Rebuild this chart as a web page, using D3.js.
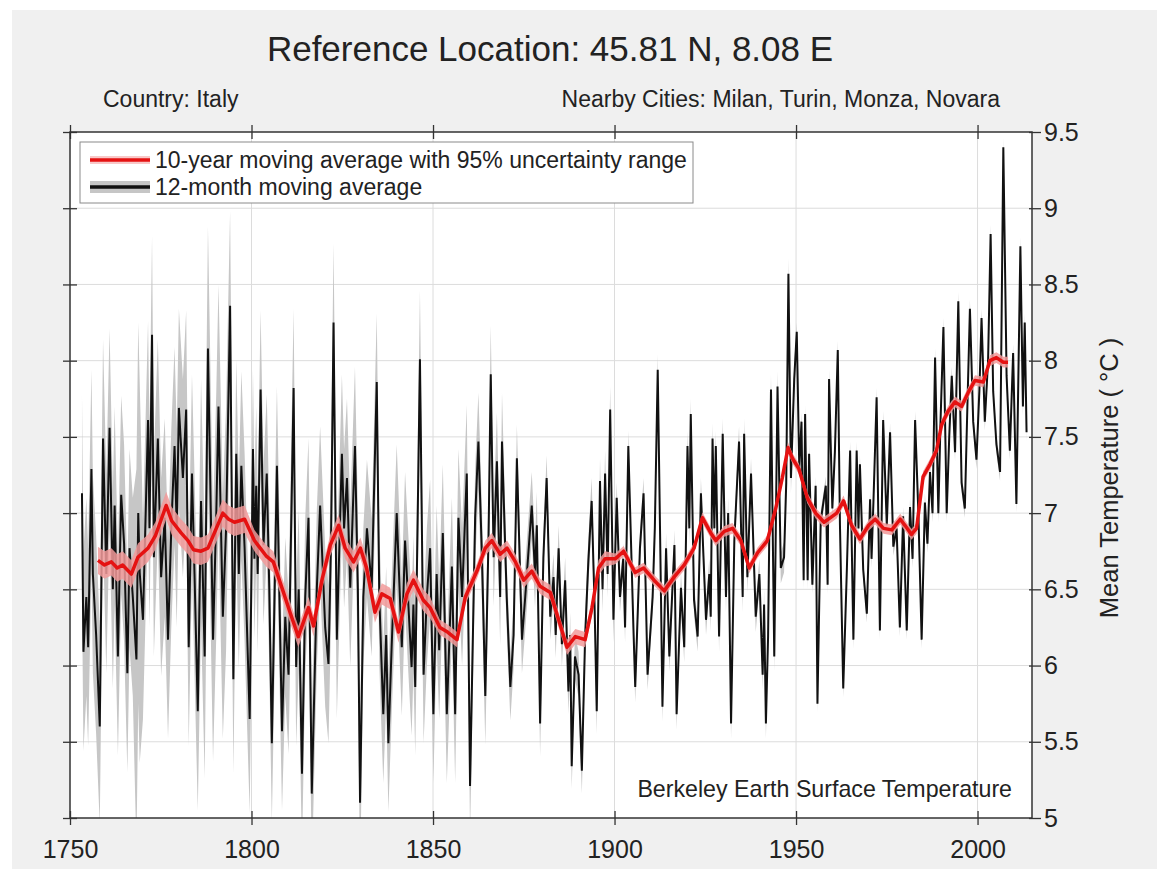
<!DOCTYPE html>
<html><head><meta charset="utf-8">
<script src="https://cdn.jsdelivr.net/npm/d3@7"></script>
<style>
body{margin:0;background:#fff;}
svg{display:block;font-family:"Liberation Sans",Arial,Helvetica,sans-serif;}
</style>
</head><body>
<svg id="chart" width="1159" height="871"></svg>
<script>
// ---- tick labels ----
const xTicks = [1750, 1800, 1850, 1900, 1950, 2000];
const yTicks = [5, 5.5, 6, 6.5, 7, 7.5, 8, 8.5, 9, 9.5];

// ---- 12-month moving average (turning points) ----
const blackYears = [
1753.3,1753.7,1754.5,1755.0,1755.9,1756.3,1757.2,1758.2,1759.1,1760.0,1760.9,1761.8,1762.3,1763.2,1764.1,1764.9,1765.8,1766.4,1767.3,1768.3,1768.8,1769.2,1770.1,
1771.5,1771.9,1772.6,1773.1,1774.2,1775.1,1776.1,1777.0,1777.9,1778.8,1779.4,1780.0,1781.1,1782.0,1782.7,1783.6,1784.3,1785.2,1786.1,1787.1,1788.0,1789.4,
1790.3,1790.9,1792.1,1793.0,1794.1,1795.0,1795.8,1796.5,1797.2,1798.1,1799.5,1800.4,1800.8,1801.3,1801.7,1802.5,1803.3,1804.2,1804.9,1805.6,1807.0,1808.4,
1809.3,1810.2,1811.6,1812.3,1813.0,1813.9,1814.8,1815.7,1816.6,1818.0,1818.9,1820.3,1821.2,1821.9,1822.6,1823.5,1824.9,1825.5,1826.3,1827.2,1828.5,1829.3,
1829.9,1830.8,1831.8,1833.1,1834.5,1835.2,1836.3,1837.1,1837.7,1838.6,1840.0,1841.4,1842.3,1844.1,1844.6,1845.1,1846.4,1847.4,1848.3,1849.2,1850.1,1851.0,
1851.7,1852.7,1853.8,1855.2,1856.1,1857.0,1858.0,1859.3,1860.2,1861.6,1862.5,1863.5,1864.4,1865.3,1865.9,1866.7,1867.6,1868.5,1869.0,1870.3,1871.3,1872.2,
1873.1,1874.5,1875.4,1877.2,1878.1,1878.6,1879.5,1880.4,1881.3,1882.3,1883.2,1883.8,1884.6,1885.5,1886.4,1887.3,1887.8,1888.2,1889.1,1890.1,1891.0,1891.9,
1892.8,1893.7,1894.5,1895.1,1896.0,1896.7,1897.4,1898.1,1898.8,1899.7,1900.6,1901.5,1902.4,1902.9,1903.8,1905.2,1905.7,1907.0,1908.0,1909.1,1910.5,1911.1,
1911.9,1912.8,1913.2,1914.2,1915.1,1916.5,1917.1,1918.3,1919.2,1920.1,1920.6,1921.0,1921.9,1922.9,1923.8,1925.2,1926.1,1926.5,1927.0,1927.5,1927.9,1928.8,
1929.8,1930.7,1931.3,1932.1,1933.0,1934.3,1935.3,1935.7,1936.6,1937.6,1938.9,1939.9,1940.8,1941.2,1941.7,1942.3,1943.1,1944.0,1944.9,1945.8,1946.7,1947.3,
1947.9,1948.6,1949.5,1950.2,1950.9,1951.5,1952.1,1952.5,1953.2,1953.6,1954.5,1955.4,1955.9,1956.8,1958.2,1958.7,1959.1,1960.0,1960.7,1961.5,1962.1,1963.0,
1964.0,1964.9,1965.8,1966.7,1967.2,1967.6,1968.5,1969.5,1970.4,1970.8,1971.3,1972.2,1973.1,1974.0,1975.0,1975.9,1976.8,1977.7,1978.6,1979.5,1980.5,1981.4,
1982.1,1982.8,1983.7,1984.6,1985.5,1986.2,1986.9,1987.6,1988.3,1989.2,1989.8,1990.6,1991.5,1992.2,1992.9,1993.8,1994.7,1995.6,1996.5,1997.2,1997.9,1998.8,
1999.7,2000.5,2001.1,2002.0,2002.9,2003.6,2004.3,2005.2,2006.2,2007.1,2008.0,2008.9,2009.8,2010.7,2011.8,2012.5,2013.0,2013.5];
const blackVals = [
7.13,6.09,6.45,6.12,7.29,6.60,6.20,5.60,7.49,6.60,7.56,6.50,7.05,6.06,7.12,6.80,5.95,6.77,6.45,6.04,7.00,6.61,6.30,
7.61,6.90,8.17,6.71,7.49,6.58,6.97,6.17,6.90,7.44,6.90,7.69,7.23,7.68,6.12,7.26,6.60,5.70,7.08,6.06,8.08,6.17,
7.00,7.70,6.32,6.90,8.36,5.91,7.39,6.60,7.31,6.77,5.65,7.42,6.70,7.18,6.60,7.81,6.79,7.26,6.50,5.49,7.31,5.57,
6.32,5.94,7.82,5.99,6.50,5.29,6.45,6.97,5.16,6.51,7.05,6.25,6.01,6.80,8.25,6.17,7.39,6.90,7.23,6.51,7.44,6.50,
5.10,6.45,6.90,6.51,7.86,6.45,5.68,6.20,5.49,6.12,7.00,6.12,6.82,5.99,6.40,5.86,8.01,5.94,6.45,6.77,5.68,6.60,
6.10,6.87,5.68,6.65,5.68,6.97,6.45,7.26,5.21,6.97,7.47,6.70,5.80,6.85,7.91,6.71,7.34,6.45,7.47,6.45,5.86,6.20,
7.36,6.17,6.45,7.05,6.60,6.92,5.62,6.71,7.23,6.32,6.58,6.20,6.77,6.14,6.56,5.83,6.20,5.34,6.06,5.94,5.31,6.19,
6.69,7.08,6.40,5.70,7.21,6.50,7.26,6.60,7.68,6.30,7.10,6.45,6.70,6.25,7.44,6.25,5.86,6.77,7.13,5.94,6.45,6.90,
7.94,6.45,5.73,6.77,6.06,6.79,5.68,6.51,6.12,7.44,6.90,7.65,6.43,6.19,7.13,6.30,6.60,6.32,7.49,6.90,7.44,6.19,
7.52,6.45,7.00,5.62,6.82,7.47,6.45,7.52,6.58,7.26,6.32,6.60,5.94,6.40,5.62,6.19,7.81,6.06,7.83,6.64,6.71,7.20,
8.57,7.23,7.88,8.19,7.29,7.60,6.56,7.65,6.56,7.39,6.53,7.18,5.75,6.95,7.18,6.53,7.88,7.03,7.40,8.07,6.92,5.85,
6.63,7.41,6.17,7.41,6.90,7.32,6.63,6.34,7.09,6.70,7.06,7.76,6.23,7.61,6.92,7.53,6.78,6.90,6.25,6.98,6.23,7.04,
6.70,7.61,7.00,6.17,7.07,6.80,7.27,7.00,8.02,7.00,7.60,8.22,7.00,7.50,7.90,7.40,8.39,7.20,7.03,7.70,8.34,7.60,
7.35,7.80,8.28,7.60,8.00,8.83,7.80,7.45,7.27,9.40,7.90,7.41,8.05,7.06,8.75,7.70,8.25,7.53];

// 95% uncertainty half-width of the 12-month average (value holds from each start year)
const unc12Start = [1753, 1767.5, 1769.5, 1786, 1794, 1800, 1830, 1860, 1870, 1880, 1900, 1950];
const unc12Vals  = [0.65, 1.25,   0.65,   0.80, 0.62, 0.52, 0.45, 0.32, 0.22, 0.15, 0.10, 0.06];

// ---- 10-year moving average ----
const redYears = [
1757.7,1759.5,1761.4,1763.0,1764.5,1766.9,1768.7,1771.5,1773.5,1775.0,1776.5,1778.0,1780.6,1782.5,1784.0,1786.1,1788.0,1790.3,1792.1,1793.7,
1795.3,1798.1,1800.8,1802.4,1804.0,1806.0,1808.8,1810.6,1812.9,1814.5,1815.7,1817.1,1819.4,1821.7,1824.0,1825.8,1828.1,1830.0,1831.7,1834.0,
1835.9,1838.2,1840.5,1842.8,1844.6,1847.3,1849.2,1851.9,1854.0,1856.6,1858.9,1862.1,1864.4,1866.2,1868.5,1870.4,1872.7,1875.0,1877.2,1879.5,
1882.3,1884.6,1886.9,1889.2,1891.9,1893.8,1895.6,1897.4,1900.2,1902.5,1905.7,1908.0,1910.9,1913.7,1916.4,1919.2,1921.9,1924.2,1926.5,1927.9,
1930.2,1932.5,1934.8,1937.1,1939.4,1942.1,1944.4,1946.2,1947.8,1949.0,1950.8,1953.1,1955.4,1957.7,1959.5,1961.2,1963.1,1965.3,1967.6,1970.0,
1971.8,1974.1,1976.4,1978.7,1980.0,1981.8,1983.2,1985.0,1986.9,1988.7,1990.1,1991.9,1993.8,1995.6,1997.4,1999.3,2001.6,2003.4,2005.2,2007.1,2008.4];
const redVals = [
6.69,6.66,6.68,6.64,6.66,6.60,6.71,6.77,6.85,6.95,7.05,6.95,6.87,6.82,6.76,6.75,6.77,6.90,7.00,6.96,
6.94,6.96,6.82,6.77,6.72,6.68,6.48,6.35,6.19,6.30,6.38,6.26,6.56,6.79,6.92,6.77,6.68,6.77,6.64,6.35,
6.47,6.44,6.22,6.47,6.56,6.43,6.38,6.25,6.22,6.17,6.45,6.62,6.77,6.82,6.73,6.77,6.68,6.56,6.62,6.52,
6.48,6.30,6.12,6.19,6.17,6.38,6.64,6.70,6.70,6.75,6.61,6.64,6.56,6.49,6.58,6.66,6.77,6.97,6.87,6.82,
6.88,6.90,6.82,6.64,6.74,6.82,7.03,7.23,7.43,7.36,7.29,7.10,7.00,6.94,6.97,7.00,7.08,6.92,6.83,6.92,
6.96,6.90,6.89,6.96,6.92,6.86,6.90,7.24,7.32,7.41,7.58,7.67,7.73,7.70,7.79,7.87,7.86,8.00,8.02,7.99,7.99];
const unc10Start = [1757, 1800, 1850, 1900];
const unc10Vals  = [0.09, 0.07, 0.05, 0.035];

// ---- drawing ----
const W = 1159, H = 871;
const L = 70, R = 1032, T = 132, B = 818;
const svg = d3.select("#chart");
svg.append("rect").attr("x", 12).attr("y", 10).attr("width", W - 14).attr("height", H - 12).attr("fill", "#f0f0f0");

const x = d3.scaleLinear().domain([1750, 2015]).range([L, R]);
const y = d3.scaleLinear().domain([5, 9.5]).range([B, T]);

svg.append("rect").attr("x", L).attr("y", T).attr("width", R - L).attr("height", B - T).attr("fill", "#fff");

// grid
const grid = svg.append("g").attr("stroke", "#dcdcdc").attr("stroke-width", 1);
grid.selectAll(".gx").data(xTicks.filter(d => d > 1750)).join("line")
  .attr("x1", d => x(d)).attr("x2", d => x(d)).attr("y1", T).attr("y2", B);
grid.selectAll(".gy").data(yTicks.filter(d => d > 5 && d < 9.5)).join("line")
  .attr("x1", L).attr("x2", R).attr("y1", d => y(d)).attr("y2", d => y(d));

svg.append("clipPath").attr("id", "clip").append("rect")
  .attr("x", L).attr("y", T).attr("width", R - L).attr("height", B - T);
const plot = svg.append("g").attr("clip-path", "url(#clip)");

function stepLookup(starts, vals, t) {
  let v = vals[0];
  for (let i = 0; i < starts.length; i++) if (t >= starts[i]) v = vals[i];
  return v;
}
const black = blackYears.map((t, i) => ({t, v: blackVals[i], u: stepLookup(unc12Start, unc12Vals, t)}));
const red = redYears.map((t, i) => ({t, v: redVals[i], u: stepLookup(unc10Start, unc10Vals, t)}));

const band = d3.area().x(d => x(d.t)).y0(d => y(d.v - d.u)).y1(d => y(d.v + d.u));
const line = d3.line().x(d => x(d.t)).y(d => y(d.v));

plot.append("path").datum(black).attr("d", band).attr("fill", "#c6c6c6");
plot.append("path").datum(black).attr("d", line).attr("fill", "none")
  .attr("stroke", "#111").attr("stroke-width", 2).attr("stroke-linejoin", "miter").attr("stroke-miterlimit", 2);
plot.append("path").datum(red).attr("d", band).attr("fill", "#f29a9a").attr("opacity", 0.85);
plot.append("path").datum(red).attr("d", line).attr("fill", "none")
  .attr("stroke", "#e51212").attr("stroke-width", 3.5).attr("stroke-linejoin", "round");

// frame
svg.append("rect").attr("x", L).attr("y", T).attr("width", R - L).attr("height", B - T)
  .attr("fill", "none").attr("stroke", "#333").attr("stroke-width", 1.5);

// axes (labels via d3 axes)
const fontTick = 25;
const xAxis = svg.append("g").attr("transform", `translate(0,${B})`)
  .call(d3.axisBottom(x).tickValues(xTicks).tickFormat(d3.format("d")).tickSize(7).tickSizeOuter(0));
xAxis.select(".domain").remove();
xAxis.selectAll(".tick line").attr("y1", -7).attr("stroke", "#333").attr("stroke-width", 1.3);
xAxis.selectAll(".tick text").attr("y", 40).attr("dy", null).attr("font-size", fontTick)
  .attr("fill", "#222").attr("font-family", "Liberation Sans, Arial, sans-serif");

const xTop = svg.append("g").attr("transform", `translate(0,${T})`)
  .call(d3.axisTop(x).tickValues(xTicks).tickFormat("").tickSize(7).tickSizeOuter(0));
xTop.select(".domain").remove();
xTop.selectAll(".tick line").attr("y1", 7).attr("stroke", "#333").attr("stroke-width", 1.3);

const yLeft = svg.append("g").attr("transform", `translate(${L},0)`)
  .call(d3.axisLeft(y).tickValues(yTicks).tickFormat("").tickSize(7).tickSizeOuter(0));
yLeft.select(".domain").remove();
yLeft.selectAll(".tick line").attr("x1", 7).attr("stroke", "#333").attr("stroke-width", 1.3);

const yRight = svg.append("g").attr("transform", `translate(${R},0)`)
  .call(d3.axisRight(y).tickValues(yTicks).tickFormat(d3.format("")).tickSize(9).tickPadding(3).tickSizeOuter(0));
yRight.select(".domain").remove();
yRight.selectAll(".tick line").attr("x1", -3).attr("stroke", "#333").attr("stroke-width", 1.3);
yRight.selectAll(".tick text").attr("font-size", fontTick).attr("fill", "#222")
  .attr("font-family", "Liberation Sans, Arial, sans-serif");

// texts
svg.append("text").attr("x", 550).attr("y", 61).attr("text-anchor", "middle")
  .attr("font-size", 35).attr("fill", "#222").text("Reference Location: 45.81 N, 8.08 E");
svg.append("text").attr("x", 103).attr("y", 107).attr("font-size", 23).attr("fill", "#222").text("Country: Italy");
svg.append("text").attr("x", 1000).attr("y", 107).attr("text-anchor", "end").attr("font-size", 23)
  .attr("fill", "#222").text("Nearby Cities: Milan, Turin, Monza, Novara");
svg.append("text").attr("x", 1012).attr("y", 797).attr("text-anchor", "end").attr("font-size", 23.2)
  .attr("fill", "#222").text("Berkeley Earth Surface Temperature");
svg.append("text").attr("transform", "translate(1118,478) rotate(-90)").attr("text-anchor", "middle")
  .attr("font-size", 25.5).attr("fill", "#222").text("Mean Temperature ( °C )");

// legend
const lg = svg.append("g");
lg.append("rect").attr("x", 80).attr("y", 142).attr("width", 613).attr("height", 61)
  .attr("fill", "#fff").attr("stroke", "#8a8a8a").attr("stroke-width", 1);
lg.append("rect").attr("x", 90).attr("y", 156).attr("width", 60).attr("height", 8).attr("fill", "#f8c8c8");
lg.append("line").attr("x1", 90).attr("x2", 150).attr("y1", 160).attr("y2", 160)
  .attr("stroke", "#e51212").attr("stroke-width", 3.5);
lg.append("rect").attr("x", 90).attr("y", 181).attr("width", 60).attr("height", 12).attr("fill", "#c6c6c6");
lg.append("line").attr("x1", 90).attr("x2", 150).attr("y1", 187).attr("y2", 187)
  .attr("stroke", "#111").attr("stroke-width", 3.5);
lg.append("text").attr("x", 155).attr("y", 168).attr("font-size", 23).attr("fill", "#222")
  .text("10-year moving average with 95% uncertainty range");
lg.append("text").attr("x", 155).attr("y", 195).attr("font-size", 23).attr("fill", "#222")
  .text("12-month moving average");
</script>
</body></html>
